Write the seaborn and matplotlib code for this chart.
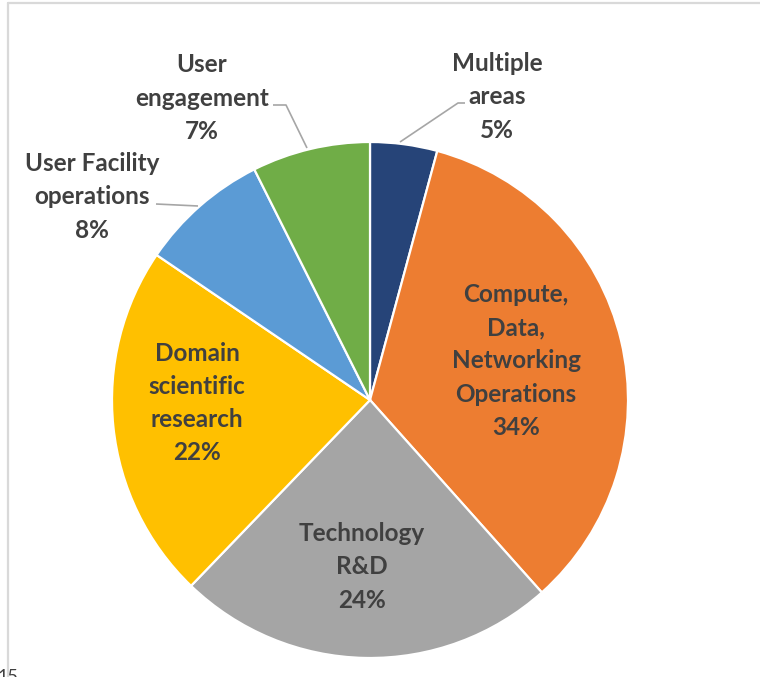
import matplotlib
matplotlib.use("Agg")
import matplotlib.pyplot as plt
import seaborn as sns

# slice data, clockwise from 12 o'clock
categories = ["Multiple areas", "Compute, Data, Networking Operations", "Technology R&D",
              "Domain scientific research", "User Facility operations", "User engagement"]
shares = [4.2, 34.2, 23.8, 22.3, 8.1, 7.4]
pct_labels = ["5%", "34%", "24%", "22%", "8%", "7%"]
label_text = ["Multiple\nareas", "Compute,\nData,\nNetworking\nOperations", "Technology\nR&D",
              "Domain\nscientific\nresearch", "User Facility\noperations", "User\nengagement"]
slice_colors = ["#264478", "#ED7D31", "#A5A5A5", "#FFC000", "#5B9BD5", "#70AD47"]

sns.set_theme(style="white")
plt.rcParams['font.family'] = ['Lato', 'DejaVu Sans']

W, H = 760, 677
fig = plt.figure(figsize=(W / 100, H / 100), dpi=100)
ax = fig.add_axes([0, 0, 1, 1])

cx, cy, r = 370, H - 400, 258
ax.pie(shares, colors=sns.color_palette(slice_colors), startangle=90, counterclock=False,
       center=(cx, cy), radius=r, frame=True,
       wedgeprops=dict(edgecolor='white', linewidth=1.6))
ax.set_xlim(0, W)
ax.set_ylim(0, H)
ax.axis('off')

txt_kw = dict(ha='center', va='center', fontsize=17.5, fontweight='bold',
              color='#404040', linespacing=1.54)

# label centres in image pixels (x, y from top)
label_pos = [(497, 97), (516, 361), (362, 567), (197, 403), (92, 197), (202, 98)]
for lab, pct, (x, y) in zip(label_text, pct_labels, label_pos):
    ax.text(x, H - y, lab + "\n" + pct, **txt_kw)

# leader lines for the outside labels
line_kw = dict(color='#A6A6A6', lw=1.2, solid_capstyle='butt')
ax.plot([465, 458, 400], [H - 103, H - 103, H - 142], **line_kw)
ax.plot([273, 286, 307], [H - 105, H - 105, H - 148], **line_kw)
ax.plot([156, 198], [H - 204, H - 206], **line_kw)

# frame edge of the original screenshot
ax.plot([8, W], [H - 3, H - 3], color='#D9D9D9', lw=1.6)
ax.plot([8, 8], [H - 3, 0], color='#D9D9D9', lw=1.6)
ax.text(-2, -8, "15", fontsize=13, color='#404040', ha='left', va='bottom')

fig.savefig("out.png", dpi=100)
